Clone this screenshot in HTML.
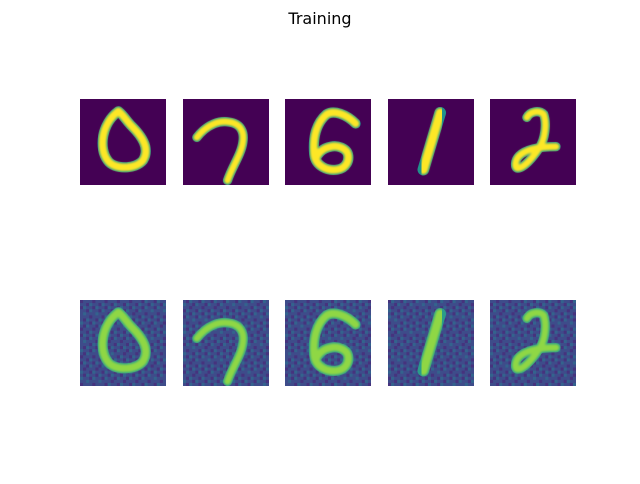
<!DOCTYPE html>
<html><head><meta charset="utf-8"><style>
html,body{margin:0;padding:0;background:#fff;}
#fig{position:relative;width:640px;height:480px;font-family:"DejaVu Sans","Liberation Sans",sans-serif;}
</style></head><body>
<div id="fig">
<svg width="640" height="480" viewBox="0 0 640 480">
  <defs>
    <filter id="soft" x="-10%" y="-10%" width="120%" height="120%"><feGaussianBlur stdDeviation="0.35"/></filter>
  </defs>
  <text x="320" y="24" text-anchor="middle" font-size="16" fill="#000">Training</text>
  <g id="panels"></g>
</svg>
</div>
<script>
const digitLabels = ["0","7","6","1","2"];
const digitPaths = [
 "M12.5,4 C7,8 6,16 9,20 C11,23 18,23 20.5,20 C23,16 20,12 17,9 C15,7 14,5 12.5,4",
 "M4.5,12.5 C8,8 12,7 15,7.5 C19,8 20,11 19.5,14 C19,18 16,22 14.5,26.5",
 "M23,8 C20,5 16,3.5 13.5,5 C10,8 9,13 9.5,18 C10,22 14,23.5 17,23 C20,22.5 21,20 20.5,18 C20,16 17,15 15,15.5 C12,16 10.5,18 10,19.5",
 "M17,4.5 L11.5,23",
 "M12,6 C13,4 16,3.5 17.5,5 C18.5,8 18,13 16,16 C14,19 11,22.5 9,22.5 C8,22.5 8,20 9.5,18.5 C12,16 17,15.5 21.5,15.5"
];
const strokeWidths = [2.5,2.2,2.5,3.0,2.2];
const colLeft = [80,183,285,388,490];
const rowTop = [99,300];
const rowNames = ["original","reconstructed"];
const size = 86;
const NS = "http://www.w3.org/2000/svg";
const g = document.getElementById("panels");
rowTop.forEach((ty, r) => {
  colLeft.forEach((lx, c) => {
    const sub = document.createElementNS(NS, "svg");
    sub.setAttribute("x", lx); sub.setAttribute("y", ty);
    sub.setAttribute("width", size); sub.setAttribute("height", size);
    sub.setAttribute("viewBox", "0 0 28 28");
    
    
    const bg = document.createElementNS(NS, "rect");
    bg.setAttribute("width", 28); bg.setAttribute("height", 28);
    bg.setAttribute("fill", r === 0 ? "#440154" : "#3e4c8a");
    sub.appendChild(bg);
    if (r === 1) {
      for (let i = 0; i < 28; i++) for (let j = 0; j < 28; j++) {
        const h = ((i * 73 + j * 151 + c * 37) % 97) / 97;
        if (h < 0.22 || h > 0.8) {
          const p = document.createElementNS(NS, "rect");
          p.setAttribute("x", i); p.setAttribute("y", j);
          p.setAttribute("width", 1); p.setAttribute("height", 1);
          p.setAttribute("fill", h < 0.22 ? "#46337e" : "#33638d");
          sub.appendChild(p);
        }
      }
    }
    const halo = document.createElementNS(NS, "path");
    halo.setAttribute("d", digitPaths[c]);
    halo.setAttribute("fill", "none");
    halo.setAttribute("stroke", r === 0 ? "#21918c" : "#2a9d8a");
    halo.setAttribute("stroke-width", strokeWidths[c] + 0.8);
    halo.setAttribute("stroke-linecap", "round");
    sub.appendChild(halo);
    const path = document.createElementNS(NS, "path");
    path.setAttribute("d", digitPaths[c]);
    path.setAttribute("fill", "none");
    path.setAttribute("stroke", r === 0 ? "#fde725" : "#8fd744");
    path.setAttribute("stroke-width", strokeWidths[c]);
    path.setAttribute("stroke-linecap", "round");
    path.setAttribute("filter", "url(#soft)");
    sub.appendChild(path);
    g.appendChild(sub);
  });
});
</script>
</body></html>
